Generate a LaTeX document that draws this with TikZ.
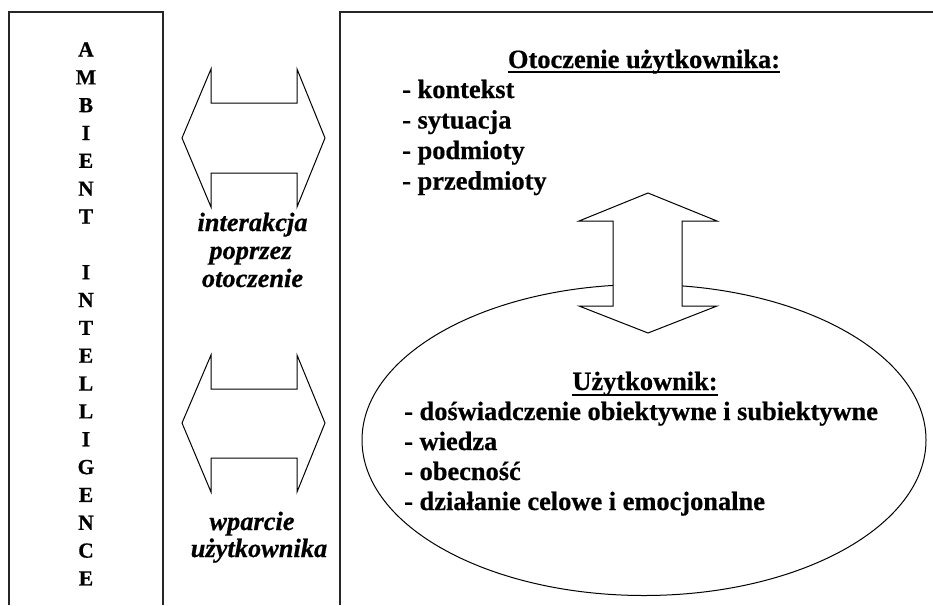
\documentclass[tikz,border=0pt]{standalone}
\usepackage{fontspec}
\setmainfont{Liberation Serif}[BoldFeatures={FakeBold=0.6},BoldItalicFeatures={FakeBold=0.6}]
\usetikzlibrary{shapes.geometric}
\begin{document}
\begin{tikzpicture}[x=1pt,y=-1pt,
  frame/.style={line width=1.3pt, draw=black!85},
  bigarrow/.style={draw, fill=white, line width=1pt, line join=miter},
  txt/.style={inner sep=0pt, anchor=base west, font=\fontsize{26.4}{30}\selectfont\bfseries},
  hdr/.style={inner sep=0pt, anchor=base, font=\fontsize{26.4}{30}\selectfont\bfseries},
  lbl/.style={inner sep=0pt, anchor=base, font=\fontsize{26.4}{30}\selectfont\bfseries\itshape},
  letter/.style={inner sep=0pt, anchor=base, font=\fontsize{21.5}{25}\selectfont\bfseries},
  uline/.style={line width=1.4pt}]
\useasboundingbox (0,0) rectangle (933,605);

% frames
\draw[frame] (9,605) -- (9,12) -- (163,12) -- (163,605);
\draw[frame] (340,605) -- (340,12) -- (933,12);

% vertical letters
\foreach \ch [count=\i] in {A,M,B,I,E,N,T,{},I,N,T,E,L,L,I,G,E,N,C,E}
  \node[letter] (L\i) at (86,{56.5+(\i-1)*27.84}) {\ch};

% left double arrows
\draw[bigarrow] (182,138) -- (211,69) -- (211,103) -- (297,103) -- (297,69) -- (325,138)
  -- (297,207) -- (297,173) -- (211,173) -- (211,207) -- cycle;
\draw[bigarrow] (182,423) -- (211,355) -- (211,389) -- (297,389) -- (297,355) -- (325,423)
  -- (297,492) -- (297,458) -- (211,458) -- (211,492) -- cycle;

\node[lbl] (i1) at (252.5,231) {interakcja};
\node[lbl] (i2) at (250.5,259) {poprzez};
\node[lbl] (i3) at (252.5,287) {otoczenie};
\node[lbl] (w1) at (252,530) {wparcie};
\node[lbl] (w2) at (259,557) {użytkownika};

% user ellipse
\node[draw, ellipse, line width=1pt, minimum width=564pt, minimum height=311pt, inner sep=0pt] (user) at (644,440) {};

% vertical double arrow
\draw[bigarrow] (648,193) -- (717,221) -- (682,221) -- (682,306) -- (717,306) -- (648,333)
  -- (579,306) -- (613,306) -- (613,221) -- (579,221) -- cycle;

% environment text
\node[hdr] (envh) at (644,68) {Otoczenie użytkownika:};
\draw[uline] ([yshift=-4pt]envh.base west) -- ([yshift=-4pt]envh.base east);
\node[txt] (e1) at (402,98) {- kontekst};
\node[txt] (e2) at (402,128.5) {- sytuacja};
\node[txt] (e3) at (402,159) {- podmioty};
\node[txt] (e4) at (402,189.5) {- przedmioty};

% user text
\node[hdr] (userh) at (645,390) {Użytkownik:};
\draw[uline] ([yshift=-5pt]userh.base west) -- ([yshift=-5pt]userh.base east);
\node[txt] (u1) at (404,420) {- doświadczenie obiektywne i subiektywne};
\node[txt] (u2) at (404,450) {- wiedza};
\node[txt] (u3) at (404,480) {- obecność};
\node[txt] (u4) at (404,510) {- działanie celowe i emocjonalne};
\end{tikzpicture}
\end{document}
